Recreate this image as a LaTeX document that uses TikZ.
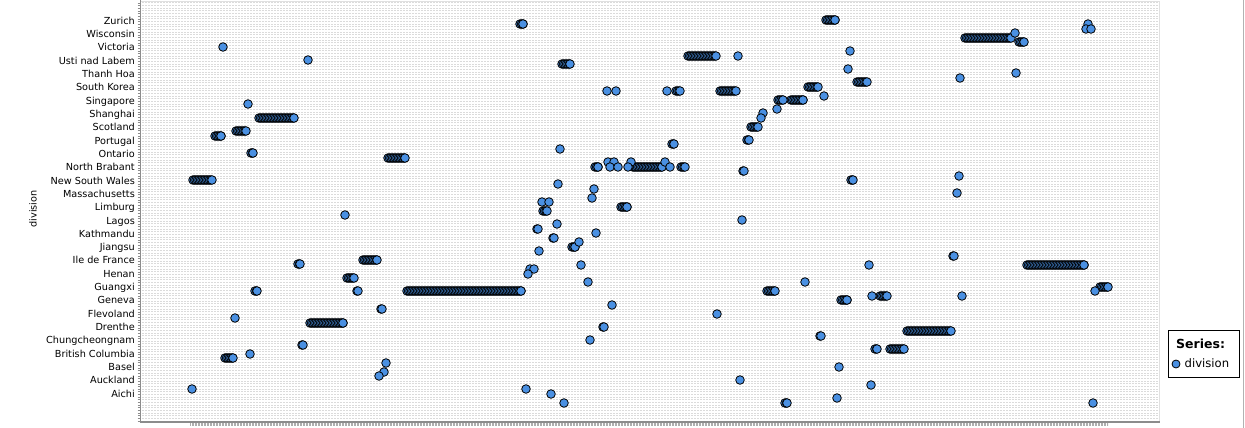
\documentclass[tikz,border=0pt]{standalone}
\usepackage{fontspec}
\setmainfont{DejaVu Sans}
\usepackage{xcolor}
\usepackage{tikz}
\usetikzlibrary{positioning}
\definecolor{dotblue}{RGB}{74,144,226}
\definecolor{axisgray}{RGB}{140,140,140}

\begin{document}
\begin{tikzpicture}[
    x=1pt, y=-1pt,
    dot/.style={fill=dotblue, draw=black, line width=0.8pt},
    lbl/.style={anchor=base east, inner sep=0pt, font=\fontsize{9.7}{11}\selectfont},
    gridline/.style={black!14, line width=0.9pt, dash pattern=on 2pt off 1pt},
    legendbox/.style={draw, line width=0.8pt, minimum width=71pt, minimum height=46.5pt}
]
    \useasboundingbox (0,0) rectangle (1245,428);

    % plot area
    \foreach \i in {0,...,157}
        \draw[gridline] (142,2.8+\i*2.664) -- (1158,2.8+\i*2.664);
    \draw[black!12, line width=1pt] (141,1.5) -- (1159,1.5) -- (1159,422);
    \draw[black!30] (1243.5,0) -- (1243.5,428);
    \foreach \i in {0,...,157}
        \draw[axisgray, line width=0.5pt] (137.5,2.8+\i*2.664) -- (140,2.8+\i*2.664);
    \draw[axisgray, line width=1.6pt] (140.5,0) -- (140.5,422) -- (1160,422);
    \draw[axisgray!70, line width=3pt, dash pattern=on 0.6pt off 0.9pt] (190,424.5) -- (1108,424.5);

    % category labels
    \foreach \name [count=\i from 0] in {Zurich, Wisconsin, Victoria, Usti nad Labem, Thanh Hoa,
        South Korea, Singapore, Shanghai, Scotland, Portugal, Ontario, North Brabant,
        New South Wales, Massachusetts, Limburg, Lagos, Kathmandu, Jiangsu, Ile de France,
        Henan, Guangxi, Geneva, Flevoland, Drenthe, Chungcheongnam, British Columbia,
        Basel, Auckland, Aichi}
        \node[lbl] (row\i) at (135,24.2+13.32*\i) {\name};
    \node[rotate=90, inner sep=0pt, font=\fontsize{9.7}{11}\selectfont] (ylabel) at (33,209) {division};

    % runs of points (start/end/y)
    \foreach \a/\b/\y in {520/523/24, 826/835/20, 965/1011/38, 1019/1024/42, 562/570/64,
        688/716/56, 857/867/82, 720/736/91, 676/680/91, 808/818/87, 259/294/118,
        791/803/100, 778/783/100, 236/246/131, 751/758/127, 215/221/136, 747/749/140,
        251/253/153, 672/674/144, 388/405/158, 633/662/167, 595/598/167, 681/685/167,
        193/212/180, 743/744/171, 851/853/180, 621/627/207, 543/547/211, 537/538/229,
        553/554/238, 572/575/247, 298/300/264, 363/377/260, 1027/1084/265, 347/354/278,
        255/257/291, 357/358/291, 407/521/291, 767/775/291, 1100/1108/287, 841/847/300,
        880/887/296, 381/382/309, 310/343/323, 603/604/327, 907/951/331, 820/821/336,
        302/303/345, 875/877/349, 890/904/349, 225/233/358, 785/787/403, 953/954/256}
    {
        \pgfmathtruncatemacro\n{(\b-\a)/1.5}
        \foreach \k in {0,...,\n}
            \filldraw[dot] (\a+\k*1.5,\y) circle[radius=4.3pt];
        \filldraw[dot] (\b,\y) circle[radius=4.3pt];
    }

    % single points
    \foreach \x/\y in {1088/24, 1086/29, 1091/29, 1015/33, 223/47, 850/51, 308/60, 738/56,
        848/69, 1016/73, 960/78, 607/91, 616/91, 667/91, 824/96, 248/104, 777/109, 763/113,
        761/118, 560/149, 608/162, 614/162, 610/167, 618/167, 631/162, 628/167, 665/162,
        670/167, 558/184, 959/176, 594/189, 592/198, 957/193, 542/202, 549/202, 345/215,
        742/220, 557/224, 596/233, 579/242, 539/251, 581/265, 869/265, 530/269, 534/269,
        528/274, 588/282, 805/282, 1095/291, 872/296, 962/296, 612/305, 235/318, 717/314,
        590/340, 250/354, 839/367, 386/363, 384/372, 379/376, 740/380, 871/385, 192/389,
        526/389, 551/394, 564/403, 837/398, 1093/403}
        \filldraw[dot] (\x,\y) circle[radius=4.3pt];

    % legend
    \node[legendbox] (legend) at (1203.8,354) {};
    \node[anchor=base west, inner sep=0pt, font=\bfseries\fontsize{12.5}{14}\selectfont] (legtitle) at (1176,348.3) {Series:};
    \filldraw[dot] (1176,364) circle[radius=4pt];
    \node[anchor=base west, inner sep=0pt, font=\fontsize{11.6}{13}\selectfont] (legitem) at (1184.5,367.7) {division};
\end{tikzpicture}
\end{document}
